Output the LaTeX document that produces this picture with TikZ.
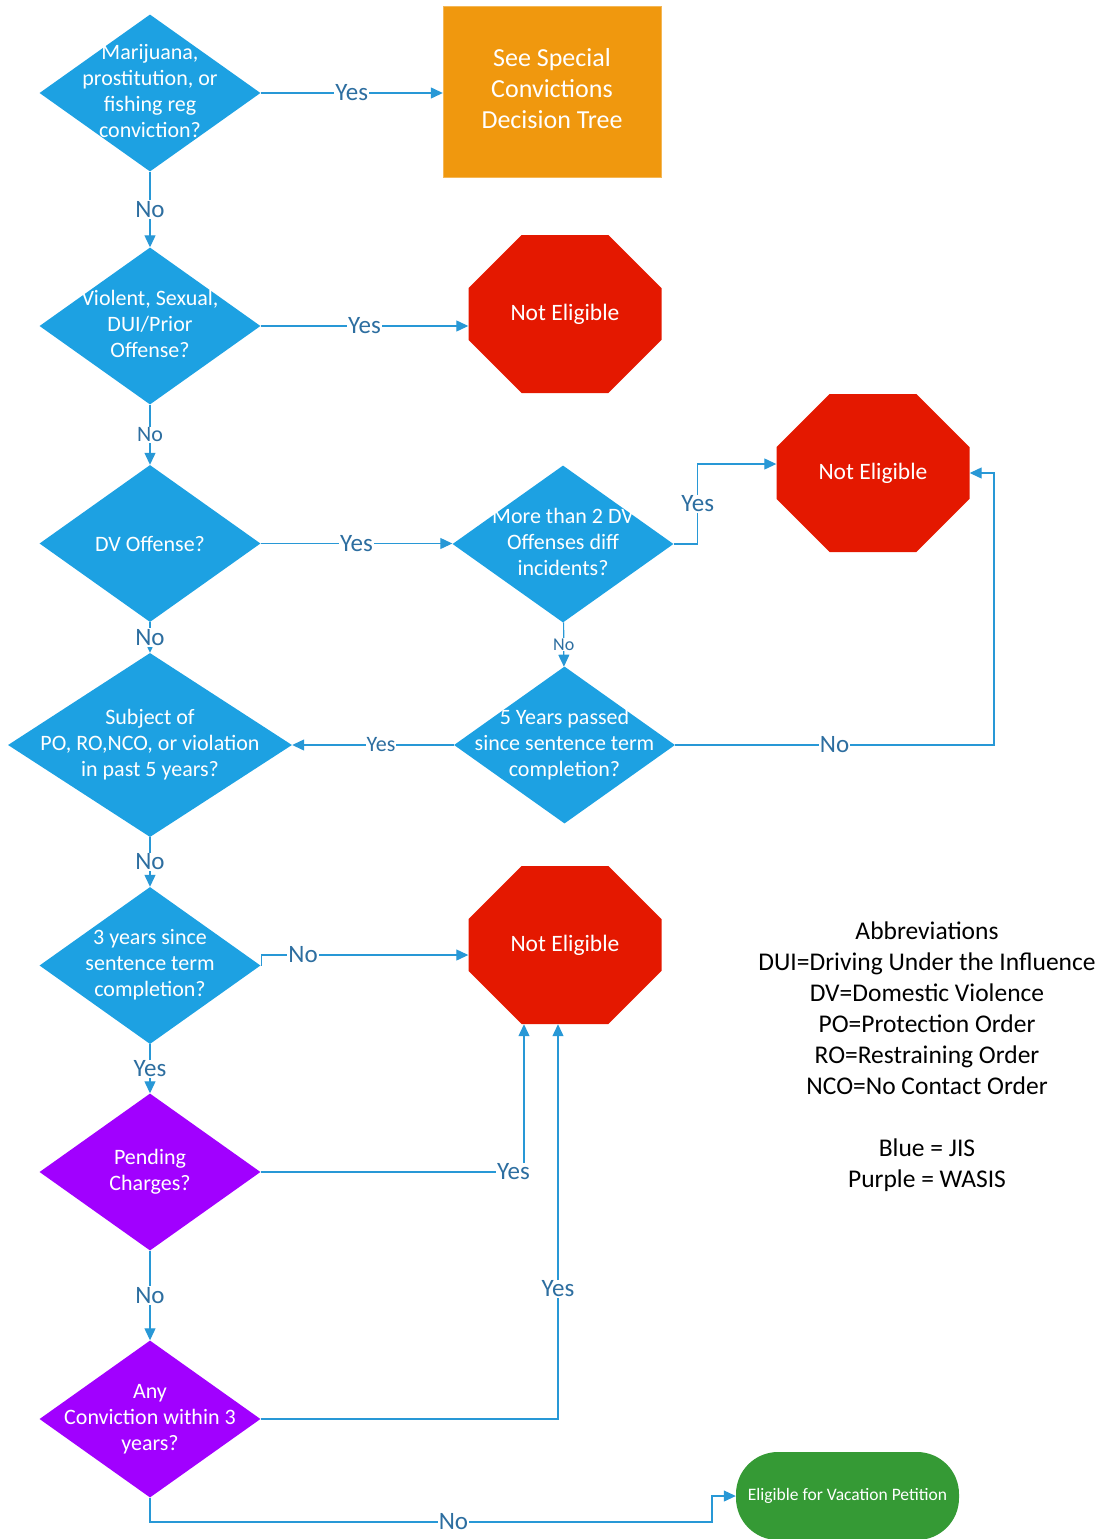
\documentclass[tikz,border=0pt]{standalone}
\usepackage{fontspec}
\setmainfont{Carlito}
\usepackage{xcolor}
\usepackage{tikz}
\usetikzlibrary{shapes.geometric}
\usetikzlibrary{shapes.misc}
\usetikzlibrary{arrows.meta}
\usetikzlibrary{positioning}

\definecolor{jisblue}{RGB}{29,161,226}
\definecolor{wasispurple}{RGB}{161,0,255}
\definecolor{stopred}{RGB}{228,24,0}
\definecolor{treeorange}{RGB}{240,152,14}
\definecolor{okgreen}{RGB}{53,154,53}
\definecolor{flowline}{RGB}{40,152,214}
\definecolor{flowtext}{RGB}{45,110,160}

% lines of text that do not widen the diamond
\newcommand{\lns}[1]{\makebox[0pt]{\begin{tabular}{@{}c@{}}#1\end{tabular}}}

\begin{document}
\begin{tikzpicture}[x=1pt,y=-1pt]

% Custom styles
    \tikzstyle{question} = [diamond, fill=jisblue, text=white, inner sep=0pt, minimum width=221pt, minimum height=157pt, font=\fontsize{22}{26}\selectfont]
    \tikzstyle{wasis} = [question, fill=wasispurple]
    \tikzstyle{stopsign} = [chamfered rectangle, chamfered rectangle xsep=45pt, chamfered rectangle ysep=43pt, fill=stopred, text=white, inner sep=0pt, minimum width=193pt, minimum height=158pt, font=\fontsize{23.5}{26}\selectfont]
    \tikzstyle{flow} = [draw=flowline, line width=1.2pt, -{Triangle[length=12pt, width=11pt]}]
    \tikzstyle{lbl} = [fill=white, text=flowtext, inner sep=1pt, font=\fontsize{25}{26}\selectfont]
    \tikzstyle{lblsmall} = [lbl, font=\fontsize{22}{24}\selectfont]
    \tikzstyle{lbltiny} = [lbl, font=\fontsize{18}{20}\selectfont]

    \useasboundingbox (0,0) rectangle (1106,1539);

    % Define nodes
    \node[question] (d1) at (150,93) {\lns{Marijuana,\\prostitution, or\\fishing reg\\conviction?}};
    \node[rectangle, fill=treeorange, draw=treeorange!70!white, text=white, minimum width=218pt, minimum height=171pt, font=\fontsize{26}{31}\selectfont] (spec) at (552,91.5) {\lns{See Special\\Convictions\\Decision Tree}};
    \node[question] (d2) at (150,326) {\lns{Violent, Sexual,\\DUI/Prior\\Offense?}};
    \node[stopsign] (ne1) at (565,314) {Not Eligible};
    \node[question] (d3) at (150,543.5) {DV Offense?};
    \node[question] (d4) at (563,544) {\lns{More than 2 DV\\Offenses diff\\incidents?}};
    \node[stopsign] (ne2) at (873,473) {Not Eligible};
    \node[question] (d5) at (564.5,745) {\lns{5 Years passed\\since sentence term\\completion?}};
    \node[question, minimum width=284pt, minimum height=184pt] (d6) at (150,745) {\lns{Subject of\\PO, RO,NCO, or violation\\in past 5 years?}};
    \node[question] (d7) at (150,965.5) {\lns{3 years since\\sentence term\\completion?}};
    \node[stopsign] (ne3) at (565,945) {Not Eligible};
    \node[wasis] (d8) at (150,1172) {\lns{Pending\\Charges?}};
    \node[wasis] (d9) at (150,1419) {\lns{Any\\Conviction within 3\\years?}};
    \node[rectangle, rounded corners=42pt, fill=okgreen, text=white, minimum width=223pt, minimum height=88pt, font=\fontsize{17.5}{20}\selectfont] (elig) at (847.5,1496) {Eligible for Vacation Petition};
    \node[align=center, font=\fontsize{25.5}{31}\selectfont] (abbr) at (927,1057) {Abbreviations\\DUI=Driving Under the Influence\\DV=Domestic Violence\\PO=Protection Order\\RO=Restraining Order\\NCO=No Contact Order\\[31pt]Blue = JIS\\Purple = WASIS};

    \coordinate (rt) at (994,744);
    \coordinate (bt) at (712,1522);

    % Connect nodes
    \draw[flow] (d1.east) -- node[lbl] {Yes} (d1.east -| spec.west);
    \draw[flow] (d1) -- node[lbl] {No} (d2);
    \draw[flow] (d2.east) -- node[lbl] {Yes} (d2.east -| ne1.west);
    \draw[flow] (d2) -- node[lblsmall] {No} (d3);
    \draw[flow] (d3.east) -- node[lbl] {Yes} (d3.east -| d4.west);
    \draw[flow] (d4.east) -- ++(24,0) |- node[lbl, pos=0.25] {Yes} ([yshift=9pt]ne2.west);
    \draw[flow] (d4) -- node[lbltiny] {No} (d5);
    \draw[flow] (d5.east) -- node[lbl] {No} (d5.east -| rt) |- (ne2.east);
    \draw[flow] (d5) -- node[lblsmall, pos=0.45] {Yes} (d6);
    \draw[flow] (d3) -- node[lbl] {No} (d6);
    \draw[flow] (d6) -- node[lbl] {No} (d7);
    \draw[flow] (d7.east) -- ++(1,0) |- node[lbl, pos=0.6] {No} ([yshift=-10pt]ne3.west);
    \draw[flow] (d7) -- node[lbl] {Yes} (d8);
    \draw[flow] (d8.east) -| node[lbl, pos=0.48] {Yes} ([xshift=-41pt]ne3.south);
    \draw[flow] (d8) -- node[lbl] {No} (d9);
    \draw[flow] (d9.east) -| node[lbl, pos=0.665] {Yes} ([xshift=-7pt]ne3.south);
    \draw[flow] (d9.south) |- node[lbl, pos=0.77] {No} (bt) |- (elig.west);

\end{tikzpicture}
\end{document}
